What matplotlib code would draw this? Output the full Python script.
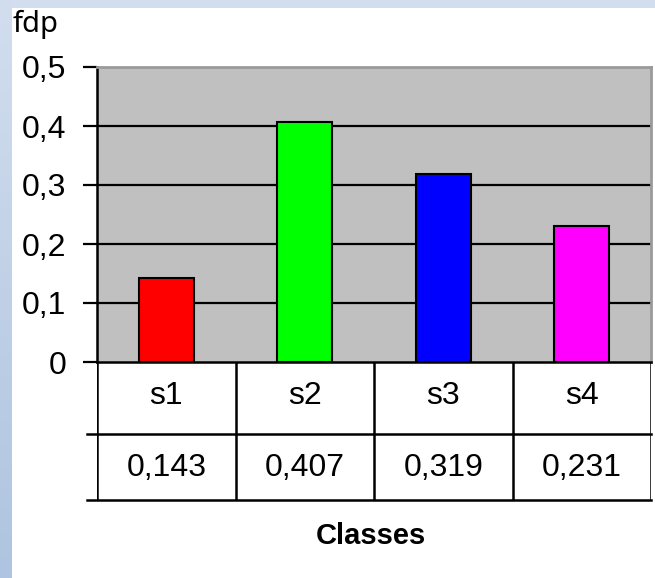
import numpy as np
import matplotlib
matplotlib.use("Agg")
import matplotlib.pyplot as plt
from matplotlib.lines import Line2D

classes = ["s1", "s2", "s3", "s4"]
fdp = [0.143, 0.407, 0.319, 0.231]
fdp_txt = ["0,143", "0,407", "0,319", "0,231"]
colors = ["#ff0000", "#00ff00", "#0000ff", "#ff00ff"]
yticks = [0, 0.1, 0.2, 0.3, 0.4, 0.5]
ytick_txt = ["0", "0,1", "0,2", "0,3", "0,4", "0,5"]

W, H = 655, 578
narrow = ["Liberation Sans Narrow", "Liberation Sans", "DejaVu Sans"]

fig = plt.figure(figsize=(W / 100, H / 100), dpi=100)
fig.patch.set_facecolor("white")

def px(x0, y0, x1, y1):
    # pixel box (top-left origin) -> figure fraction rect
    return [x0 / W, 1 - y1 / H, (x1 - x0) / W, (y1 - y0) / H]

# blue frame on the left and top
bg = fig.add_axes(px(0, 0, 12, H))
grad = np.linspace(0, 1, 256).reshape(-1, 1)
cmap = matplotlib.colors.LinearSegmentedColormap.from_list("bl", ["#d2deee", "#aec4e0"])
bg.imshow(grad, aspect="auto", cmap=cmap, extent=[0, 1, 0, 1])
bg.axis("off")
top = fig.add_axes(px(12, 0, W, 8))
top.axis("off")
top.add_patch(plt.Rectangle((0, 0), 1, 1, color="#d2deee", transform=top.transAxes))

x0, x1, ytop, yzero, ybot = 97, 651, 67, 362, 500
ax = fig.add_axes(px(x0, ytop, x1, yzero))
ax.set_facecolor("#c0c0c0")
xs = np.arange(len(classes))
ax.bar(xs, fdp, width=0.4, color=colors, edgecolor="black", linewidth=1.5, zorder=3)
ax.set_xlim(-0.5, 3.5)
ax.set_ylim(0, 0.5)
for t in yticks[1:-1]:
    ax.axhline(t, color="black", lw=1.6, zorder=1)
ax.set_yticks(yticks)
ax.set_yticklabels(ytick_txt, fontsize=23, family=narrow)
ax.tick_params(axis="y", length=10, width=1.6, pad=12, colors="black")
ax.set_xticks([])
for s in ["top", "right"]:
    ax.spines[s].set_color("#9a9a9a")
    ax.spines[s].set_linewidth(2)
ax.spines["left"].set_linewidth(1.8)
ax.spines["bottom"].set_linewidth(1.8)

# data table under the bars
tb = fig.add_axes(px(x0, yzero, x1, ybot))
tb.set_xlim(-0.5, 3.5)
tb.set_ylim(0, 2)
tb.axis("off")
lw = 1.8
for xb in [-0.5, 0.5, 1.5, 2.5, 3.5]:
    tb.plot([xb, xb], [0, 2], color="black", lw=lw, solid_capstyle="butt")
mid = (ybot - 434) / (ybot - yzero) * 2
tick_x = -0.5 - 10 / (x1 - x0) * 4
for yb in [0, mid]:
    tb.add_line(Line2D([tick_x, 3.5], [yb, yb], color="black", lw=lw, clip_on=False))
for i in range(len(classes)):
    tb.text(xs[i], 1.5, classes[i], ha="center", va="center", fontsize=23, family=narrow)
    tb.text(xs[i], 0.47, fdp_txt[i], ha="center", va="center", fontsize=23, family=narrow)

fig.text(371 / W, 1 - 536 / H, "Classes", ha="center", va="center", fontsize=21,
         fontweight="bold", family=narrow)
fig.text(13 / W, 1 - 24 / H, "fdp", ha="left", va="center", fontsize=21, family="Noto Sans")

fig.savefig("out.png", dpi=100)
